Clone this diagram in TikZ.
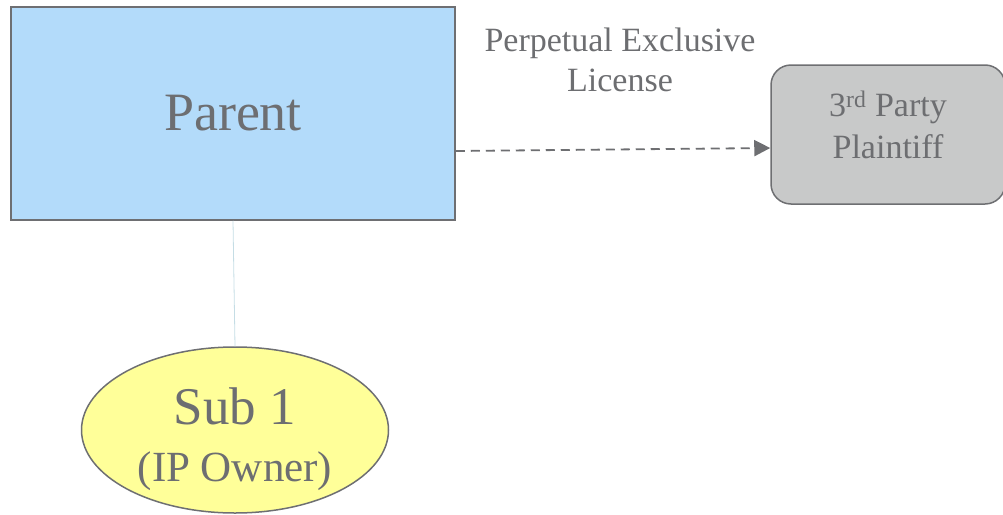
\documentclass[tikz,border=0pt]{standalone}
\usepackage{fontspec}
\setmainfont{Liberation Serif}
\usetikzlibrary{shapes.geometric,arrows.meta}

\definecolor{txtgray}{HTML}{6D6E71}
\definecolor{linegray}{HTML}{6E6F72}
\definecolor{parentblue}{HTML}{B3DBFA}
\definecolor{partygray}{HTML}{C8C9C9}
\definecolor{subyellow}{HTML}{FFFF99}
\definecolor{tielink}{HTML}{C5DDE5}

\tikzset{
    entity/.style={draw=linegray, line width=1.5pt, inner sep=0pt},
    caption/.style={text=txtgray, align=center, inner sep=0pt},
    license/.style={draw=linegray, line width=1.8pt, dash pattern=on 9pt off 6pt,
                    -{Triangle[length=16pt,width=16pt]}},
}

\begin{document}
\begin{tikzpicture}[x=1pt,y=-1pt]
    \useasboundingbox (0,0) rectangle (1003,514);
    \begin{scope}  % the three parties
        \node[entity, fill=parentblue, minimum width=444pt, minimum height=213pt,
              text=txtgray, font=\fontsize{54}{60}\selectfont] (parent) at (233,113.5) {Parent};
        \node[entity, fill=partygray, rounded corners=20pt, minimum width=234pt,
              minimum height=139pt] (plaintiff) at (888,134.5) {};
        \node[entity, ellipse, fill=subyellow, minimum width=307pt, minimum height=166pt]
              (sub) at (235,430) {};
    \end{scope}
    \node[caption, font=\fontsize{34}{42}\selectfont]
        (plaintifftext) at ([yshift=10pt]plaintiff.center) {3\textsuperscript{rd} Party\\Plaintiff};
    \node[caption, font=\fontsize{43}{57}\selectfont]
        (subtext) at ([yshift=-9pt]sub.center) {{\fontsize{53}{53}\selectfont Sub 1}\\(IP Owner)};
    \node[caption, font=\fontsize{34}{40}\selectfont]
        (licnote) at (620,60) {Perpetual Exclusive\\License};
    \draw[license] ([yshift=-37.5pt]parent.east) -- ([yshift=-13.5pt]plaintiff.west);
    \draw[draw=tielink, line width=0.8pt] (parent.south) -- (sub.north);
\end{tikzpicture}
\end{document}
